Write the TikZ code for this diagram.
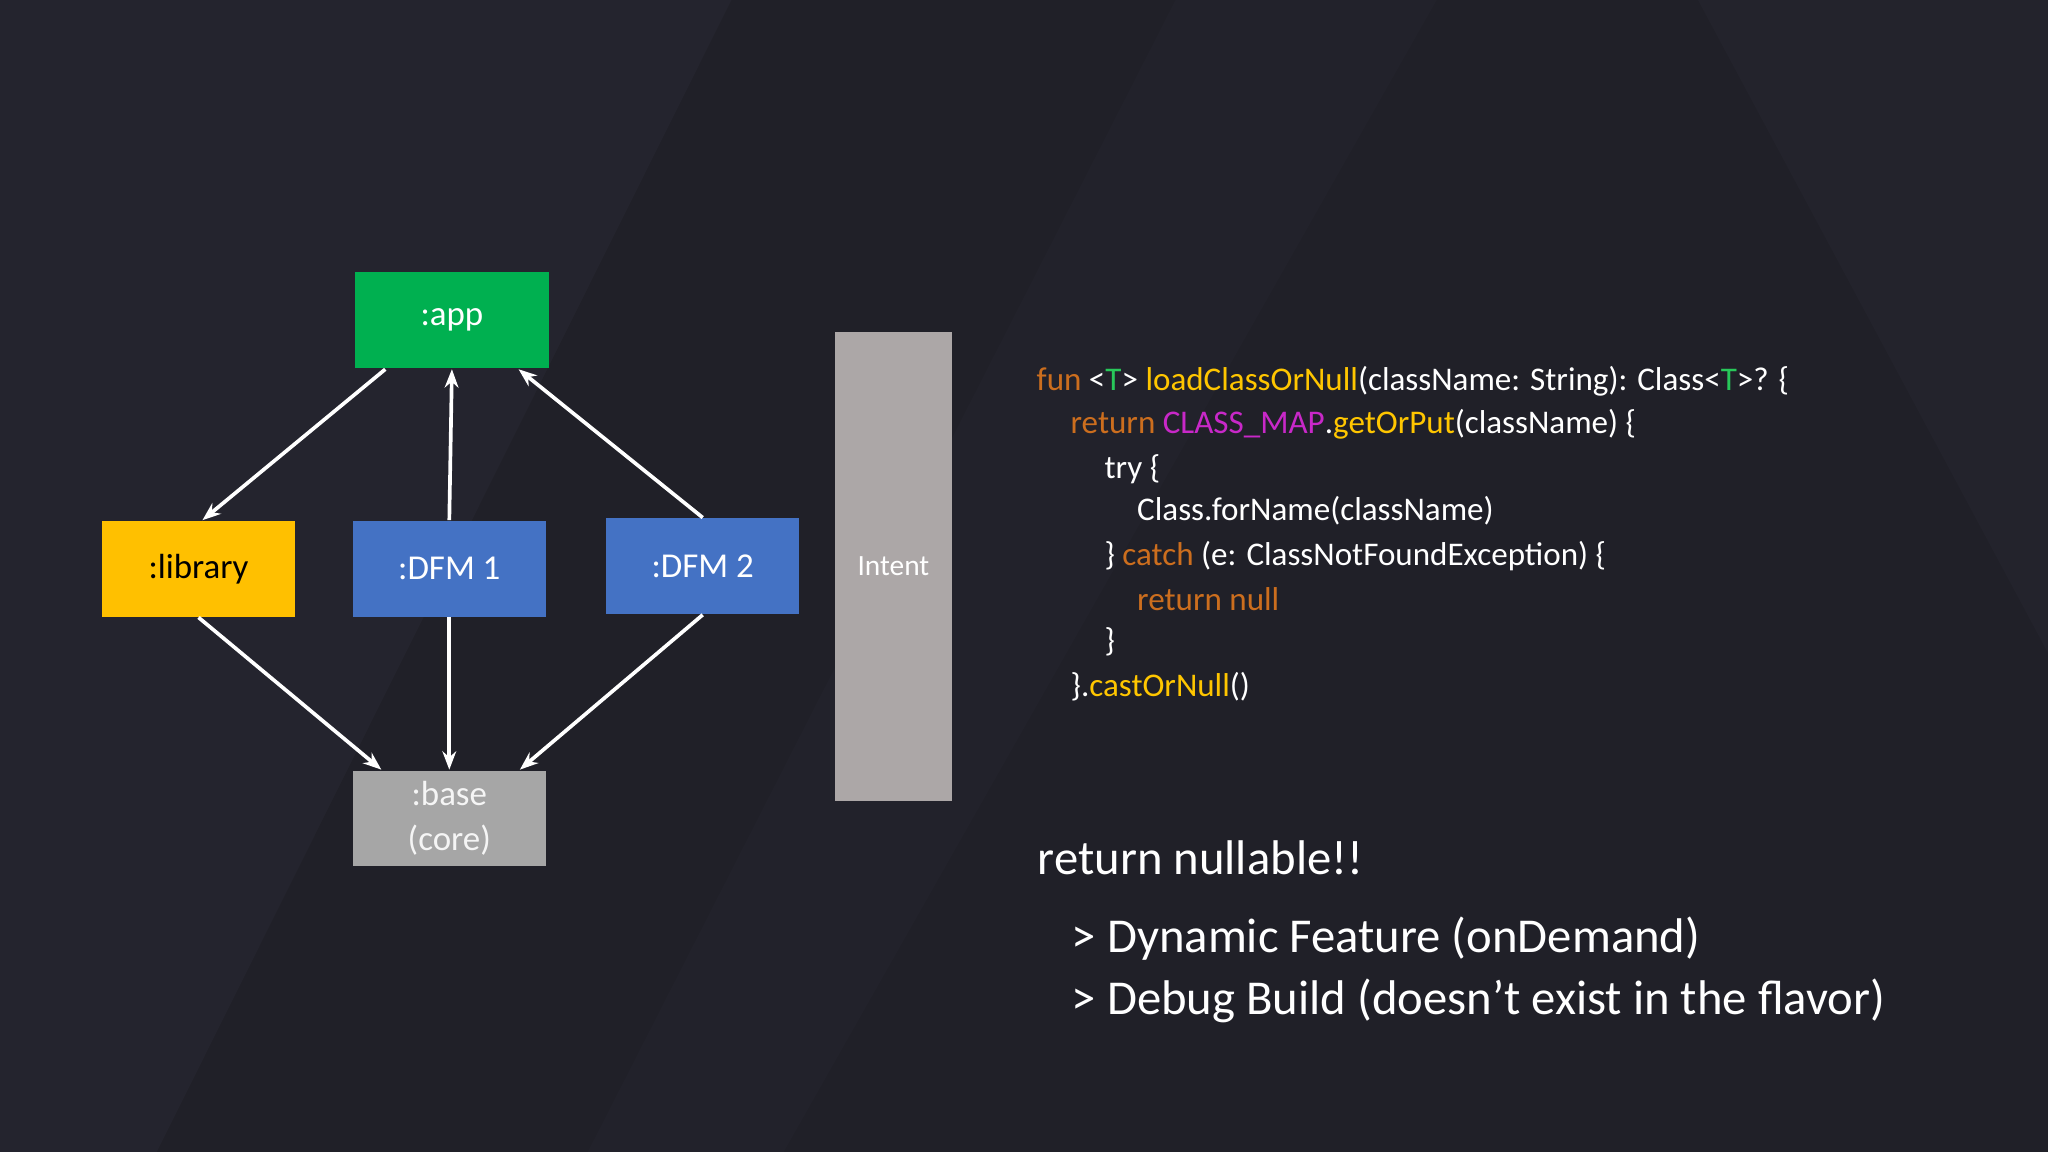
\documentclass[tikz,border=0pt]{standalone}
\usepackage{fontspec}
\setmainfont{Carlito}
\usetikzlibrary{arrows.meta}
\definecolor{bg}{RGB}{32,32,40}
\definecolor{bg2}{RGB}{40,40,50}
\definecolor{gr}{RGB}{0,176,80}
\definecolor{ye}{RGB}{255,192,0}
\definecolor{bl}{RGB}{68,114,196}
\definecolor{gy}{RGB}{166,166,166}
\definecolor{ig}{RGB}{172,167,167}
\definecolor{kw}{RGB}{204,110,30}
\definecolor{fn}{RGB}{255,198,0}
\definecolor{tg}{RGB}{40,200,90}
\definecolor{mg}{RGB}{200,40,200}
\begin{document}
\begin{tikzpicture}[x=0.01cm,y=-0.01cm,
 ar/.style={draw=white,line width=0.8pt,-{Stealth[length=4pt]}},
 code/.style={anchor=west,inner sep=0,text=white,font=\fontsize{7.2}{8}\selectfont},
 big/.style={anchor=west,inner sep=0,text=white,font=\fontsize{10.6}{12}\selectfont}]
\useasboundingbox (0,0) rectangle (1568,882);
\fill[bg] (0,0) rectangle (1568,882);
\fill[bg2,opacity=0.6] (0,0) -- (560,0) -- (120,882) -- (0,882) -- cycle;
\fill[bg2,opacity=0.4] (1300,0) -- (1568,0) -- (1568,500) -- cycle;
\fill[bg2,opacity=0.3] (900,0) -- (1100,0) -- (600,882) -- (450,882) -- cycle;
\node[fill=gr,minimum width=1.48cm,minimum height=0.74cm,inner sep=0,text=white,font=\fontsize{7.6}{9}\selectfont] (app) at (346,245) {:app};
\node[fill=ye,minimum width=1.48cm,minimum height=0.73cm,inner sep=0,text=black,font=\fontsize{7.6}{9}\selectfont] (lib) at (152,435.5) {:library};
\node[fill=bl,minimum width=1.48cm,minimum height=0.73cm,inner sep=0,text=white,font=\fontsize{7.6}{9}\selectfont] (d1) at (344,435.5) {:DFM 1};
\node[fill=bl,minimum width=1.48cm,minimum height=0.73cm,inner sep=0,text=white,font=\fontsize{7.6}{9}\selectfont] (d2) at (538,433.5) {:DFM 2};
\node[fill=gy,minimum width=1.48cm,minimum height=0.73cm,inner sep=0,text=white!92!gray,align=center,font=\fontsize{7.6}{9.8}\selectfont] (base) at (344,626.5) {:base\\(core)};
\node[fill=ig,minimum width=0.9cm,minimum height=3.59cm,inner sep=0,text=white,font=\fontsize{6.4}{8}\selectfont] (int) at (684,433.5) {Intent};
\draw[ar] ([xshift=-0.51cm]app.south) -- ([xshift=0.03cm]lib.north);
\draw[ar] (d1.north) -- (app.south);
\draw[ar] (d2.north) -- ([xshift=0.51cm]app.south);
\draw[ar] (lib.south) -- ([xshift=-0.52cm]base.north);
\draw[ar] (d1.south) -- (base.north);
\draw[ar] (d2.south) -- ([xshift=0.54cm]base.north);
\node[code] (c1) at (793,292) {\textcolor{kw}{fun} <\textcolor{tg}{T}> \textcolor{fn}{loadClassOrNull}(className: String): Class<\textcolor{tg}{T}>? \{};
\node[code] (c2) at (819,325) {\textcolor{kw}{return} \textcolor{mg}{CLASS\_MAP}.\textcolor{fn}{getOrPut}(className) \{};
\node[code] (c3) at (845,359) {try \{};
\node[code] (c4) at (870,391) {Class.forName(className)};
\node[code] (c5) at (845,426) {\} \textcolor{kw}{catch} (e: ClassNotFoundException) \{};
\node[code] (c6) at (870,459) {\textcolor{kw}{return null}};
\node[code] (c7) at (845,491) {\}};
\node[code] (c8) at (819,526) {\}.\textcolor{fn}{castOrNull}()};
\node[big] (t1) at (794,657) {return nullable!!};
\node[big] (t2) at (820,719) {> Dynamic Feature (onDemand)};
\node[big] (t3) at (820,766) {> Debug Build (doesn’t exist in the flavor)};
\end{tikzpicture}
\end{document}
